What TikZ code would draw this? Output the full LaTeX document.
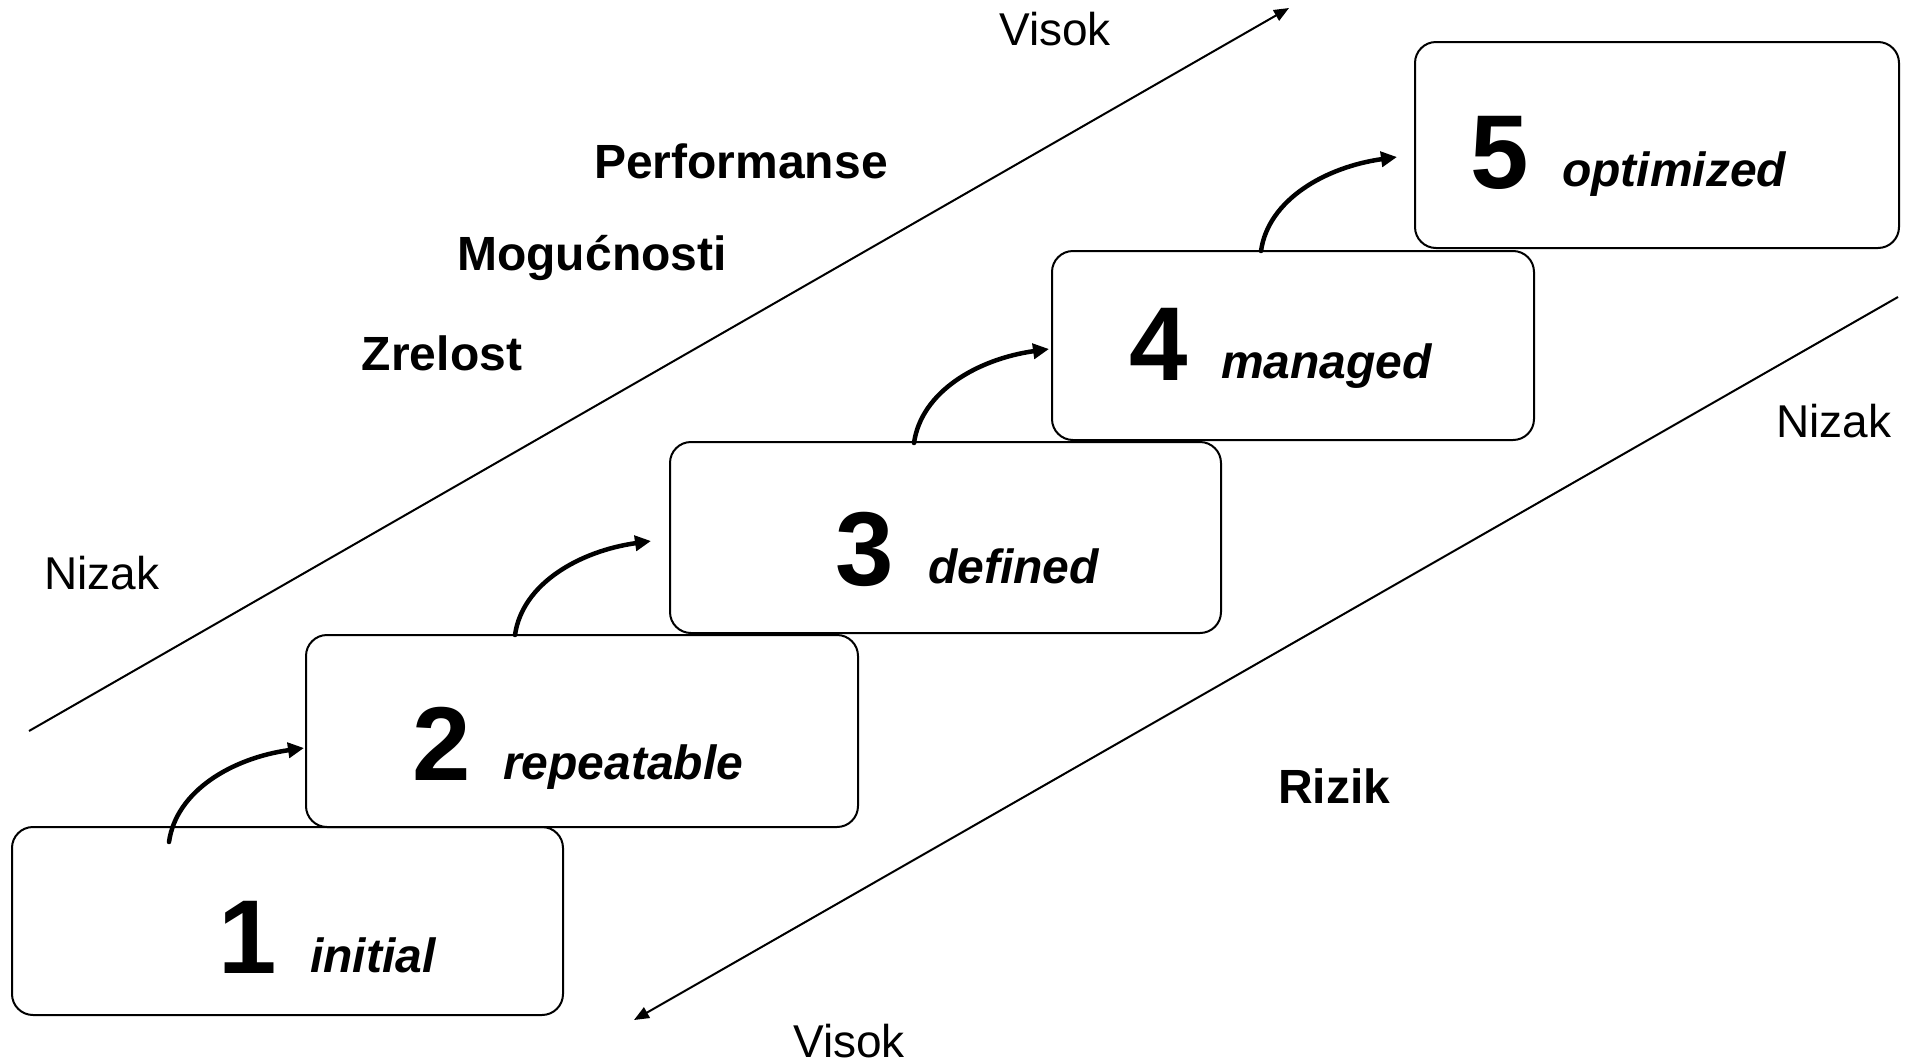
\documentclass[tikz,border=0pt]{standalone}
\usepackage{fontspec}
\setmainfont{Liberation Sans}
\usetikzlibrary{arrows.meta}
\begin{document}
\begin{tikzpicture}[x=1pt,y=1pt,
  stagebox/.style={draw=black,fill=white,line width=2pt,rounded corners=21pt,inner sep=0pt,outer sep=0pt},
  digit/.style={anchor=base,inner sep=0pt,font=\fontsize{105}{110}\selectfont\bfseries},
  stagelabel/.style={anchor=base west,inner sep=0pt,font=\fontsize{48}{52}\selectfont\bfseries\itshape},
  plainlabel/.style={anchor=base,inner sep=0pt,font=\fontsize{46}{50}\selectfont},
  boldlabel/.style={anchor=base,inner sep=0pt,font=\fontsize{48}{52}\selectfont\bfseries},
  steparrow/.style={line width=4.5pt,line cap=round,-{Triangle[length=16pt,width=15pt]}},
  axisarrow/.style={line width=2pt,-{Triangle[length=15pt,width=12pt]}}]
\useasboundingbox (0,0) rectangle (1916,-1063);

% boxes
\node[stagebox,minimum width=551pt,minimum height=188pt] (b1) at (287.5,-921) {};
\node[stagebox,minimum width=552pt,minimum height=192pt] (b2) at (582,-731) {};
\node[stagebox,minimum width=551pt,minimum height=191pt] (b3) at (945.5,-537.5) {};
\node[stagebox,minimum width=482pt,minimum height=189pt] (b4) at (1293,-345.5) {};
\node[stagebox,minimum width=484pt,minimum height=206pt] (b5) at (1657,-145) {};

% digits and labels
\node[digit] (d1) at (247.5,-973) {1};
\node[stagelabel] (l1) at (310,-972) {initial};
\node[digit] (d2) at (442,-780) {2};
\node[stagelabel] (l2) at (503,-779) {repeatable};
\node[digit] (d3) at (864.5,-585) {3};
\node[stagelabel] (l3) at (928,-583) {defined};
\node[digit] (d4) at (1158.5,-380) {4};
\node[stagelabel] (l4) at (1221,-378) {managed};
\node[digit] (d5) at (1499.5,-188) {5};
\node[stagelabel] (l5) at (1562,-186) {optimized};

% step arrows
\draw[steparrow] ([xshift=157pt,yshift=-15pt]b1.north west) to[out=82,in=188,out distance=52pt,in distance=72pt] ([xshift=-2pt,yshift=-17pt]b2.west);
\draw[steparrow] ([xshift=209pt]b2.north west) to[out=82,in=188,out distance=52pt,in distance=72pt] ([xshift=-19pt,yshift=-3.5pt]b3.west);
\draw[steparrow] ([xshift=244pt,yshift=-1pt]b3.north west) to[out=82,in=188,out distance=52pt,in distance=72pt] ([xshift=-3pt,yshift=-3.5pt]b4.west);
\draw[steparrow] ([xshift=209pt]b4.north west) to[out=82,in=188,out distance=52pt,in distance=72pt] ([xshift=-18pt,yshift=-12pt]b5.west);

% axes
\coordinate (ua) at (29,-731);
\coordinate (ub) at (1289,-8);
\coordinate (la) at (1898,-297);
\coordinate (lb) at (634,-1020);
\draw[axisarrow] (ua) -- (ub);
\draw[axisarrow] (la) -- (lb);

% labels
\node[plainlabel] (vtop) at (1055,-45) {Visok};
\node[plainlabel] (nleft) at (102,-589) {Nizak};
\node[plainlabel] (nright) at (1834,-437) {Nizak};
\node[plainlabel] (vbot) at (849,-1057) {Visok};
\node[boldlabel] (perf) at (741,-178) {Performanse};
\node[boldlabel] (mog) at (592,-270) {Mogućnosti};
\node[boldlabel] (zrel) at (442,-370) {Zrelost};
\node[boldlabel] (riz) at (1334,-803) {Rizik};
\end{tikzpicture}
\end{document}
